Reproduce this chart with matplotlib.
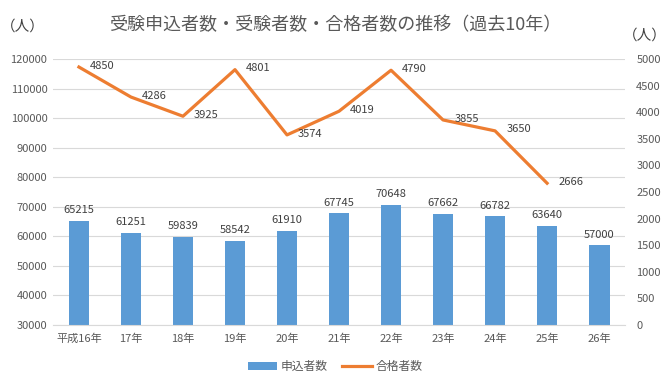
import numpy as np
import matplotlib
matplotlib.use("Agg")
import matplotlib.pyplot as plt

plt.rcParams['font.family'] = ['Noto Sans CJK JP', 'DejaVu Sans']

years = ['平成16年', '17年', '18年', '19年', '20年', '21年', '22年', '23年', '24年', '25年', '26年']
applicants = [65215, 61251, 59839, 58542, 61910, 67745, 70648, 67662, 66782, 63640, 57000]
passers = [4850, 4286, 3925, 4801, 3574, 4019, 4790, 3855, 3650, 2666]

text_c = '#595959'
bar_c = '#5B9BD5'
line_c = '#ED7D31'

fig = plt.figure(figsize=(6.7, 3.86), dpi=100)
ax = fig.add_axes([0.079, 0.158, 0.854, 0.689])
ax2 = ax.twinx()

x = np.arange(len(years))
ax.bar(x, applicants, width=0.4, color=bar_c, label='申込者数', zorder=2)
for xi, v in zip(x, applicants):
    ax.annotate(str(v), (xi, v), xytext=(0, 4), textcoords='offset points',
                ha='center', va='bottom', fontsize=8, color='#404040')

ax.set_ylim(30000, 120000)
ax.set_yticks(np.arange(30000, 120001, 10000))
ax.set_xlim(-0.5, len(years) - 0.5)
ax.set_xticks(x)
ax.set_xticklabels(years)
ax.grid(axis='y', color='#D9D9D9', linewidth=0.8, zorder=0)
ax.set_axisbelow(True)

xl = x[:len(passers)]
ax2.plot(xl, passers, color=line_c, linewidth=2.3, label='合格者数', zorder=3)
for xi, v in zip(xl, passers):
    ax2.annotate(str(v), (xi, v), xytext=(8, 1), textcoords='offset points',
                 ha='left', va='center', fontsize=8, color='#404040')
ax2.set_ylim(0, 5000)
ax2.set_yticks(np.arange(0, 5001, 500))

for a in (ax, ax2):
    for s in a.spines.values():
        s.set_visible(False)
    a.tick_params(length=0, labelsize=8, labelcolor=text_c)
ax.spines['bottom'].set_visible(True)
ax.spines['bottom'].set_color('#D9D9D9')
ax.tick_params(axis='x', pad=6, labelsize=8)
ax.tick_params(axis='y', pad=4)
ax2.tick_params(axis='y', pad=8)

fig.text(0.5, 0.935, '受験申込者数・受験者数・合格者数の推移（過去10年）', ha='center', va='center',
         fontsize=13, color=text_c)
fig.text(0.034, 0.93, '（人）', ha='center', va='center', fontsize=10.5, color='#404040')
fig.text(0.962, 0.908, '（人）', ha='center', va='center', fontsize=10.5, color='#404040')

h1, l1 = ax.get_legend_handles_labels()
h2, l2 = ax2.get_legend_handles_labels()
fig.legend(h1 + h2, l1 + l2, loc='center', bbox_to_anchor=(0.5, 0.05), ncol=2, frameon=False,
           fontsize=8.5, labelcolor=text_c, handlelength=2.5, handletextpad=0.3, columnspacing=1.2)

fig.savefig('out.png', dpi=100)
